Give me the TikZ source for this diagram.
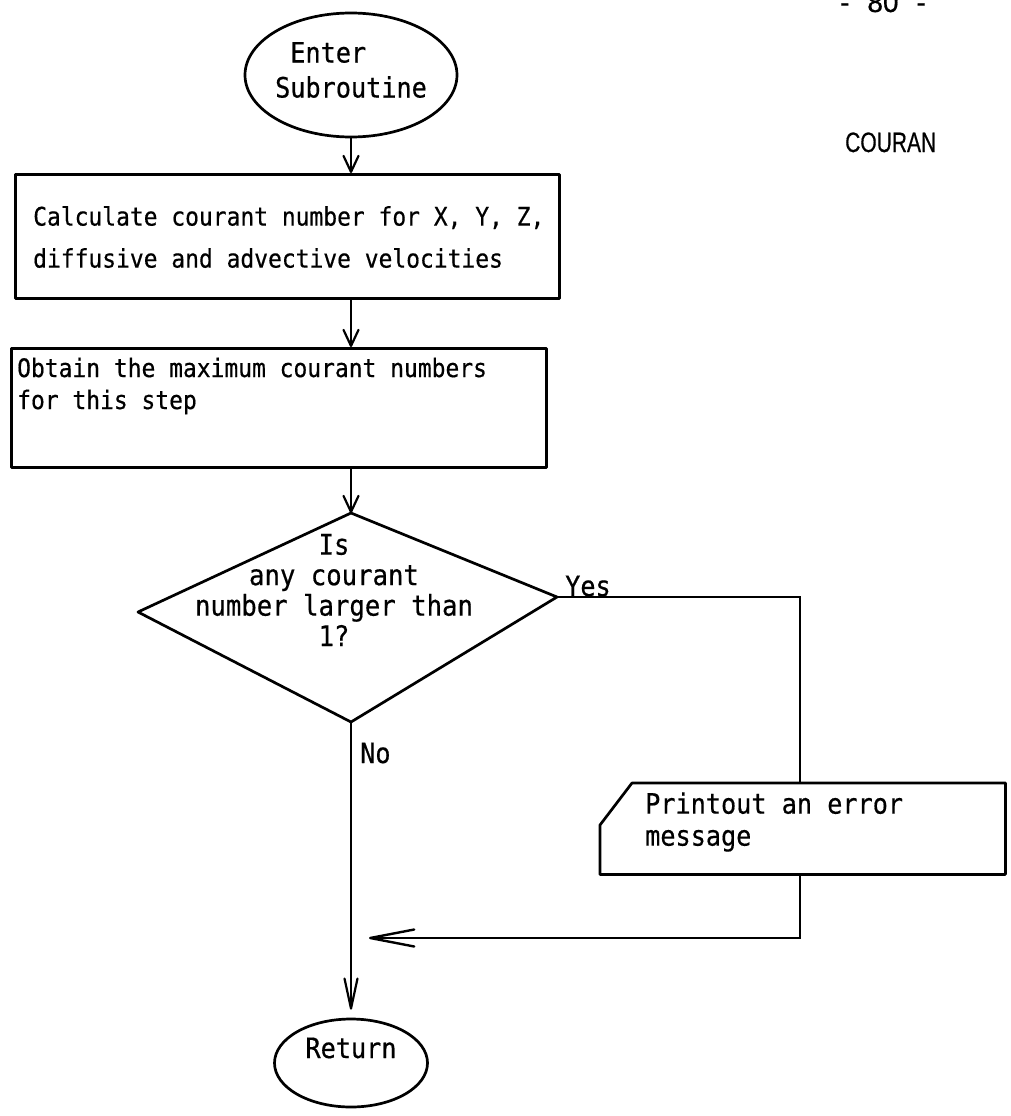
\documentclass[tikz,border=0pt]{standalone}
\usepackage{fontspec}
\usepackage{graphicx}
\setmonofont[FakeStretch=0.9,FakeBold=0.5]{DejaVu Sans Mono}
\newfontfamily\headsans[FakeBold=0.6]{Liberation Sans}
\usetikzlibrary{arrows.meta,shapes.geometric}

\tikzset{
  outline/.style={draw=black, line width=2.7pt, line join=round, inner sep=0pt},
  flow/.style={draw=black, line width=2.4pt},
  tipS/.style={-{Straight Barb[length=16pt,width=15pt,line width=2.2pt,round]}},
  tipL/.style={-{Straight Barb[length=30pt,width=13pt,line width=2.2pt,round]}},
  tipB/.style={-{Straight Barb[length=44pt,width=17pt,line width=2.4pt,round]}},
  mono/.style={font=\fontsize{28}{30}\selectfont\ttfamily, inner sep=0pt},
  boxtext/.style={inner sep=0pt, align=left},
}

\begin{document}
\begin{tikzpicture}[x=1pt,y=-1pt]
\fill[white] (0,0) rectangle (1010,1116);
\useasboundingbox (0,0) rectangle (1010,1116);

% page number and routine name
\node[anchor=base, inner sep=0pt, font=\headsans\fontsize{28}{28}\selectfont] (pagenum) at (883,12) {-\hspace{18pt}80\hspace{18pt}-};
\node[anchor=base west, inner sep=0pt, font=\headsans\fontsize{28}{28}\selectfont] (routine) at (845,152) {\scalebox{0.75}[1]{COURAN}};

% start terminal
\node[outline, ellipse, minimum width=212, minimum height=124] (enter) at (351,75) {};
\node[mono, align=left, font=\fontsize{28}{35}\selectfont\ttfamily] (entert) at (351,70) {\ Enter\\Subroutine};

% processing boxes
\node[outline, minimum width=544, minimum height=124, anchor=north west] (calc) at (14,173) {};
\node[boxtext, anchor=west, font=\fontsize{25.5}{42}\selectfont\ttfamily] (calct) at (33,237)
  {Calculate courant number for X, Y, Z,\\diffusive and advective velocities};

\node[outline, minimum width=535, minimum height=119, anchor=north west] (maxc) at (10,347) {};
\node[boxtext, anchor=west, font=\fontsize{25.5}{32}\selectfont\ttfamily] (maxct) at (17,386)
  {Obtain the maximum courant numbers\\for this step};

% decision
\coordinate (dT) at (351,513);
\coordinate (dR) at (557,597);
\coordinate (dB) at (351,722);
\coordinate (dL) at (138,612);
\draw[outline] (dT) -- (dR) -- (dB) -- (dL) -- cycle;
\node[mono, align=center, font=\fontsize{28.5}{30.5}\selectfont\ttfamily] (ask) at (334,590)
  {Is\\any courant\\number larger than\\1?};
\node[mono, anchor=base west] (yes) at (565,596) {Yes};
\node[mono, anchor=west] (no) at (360,753) {No};

% error output
\node[minimum width=405, minimum height=91, inner sep=0pt, anchor=north west] (err) at (600,783) {};
\draw[outline] ([xshift=32pt]err.north west) -- (err.north east) -- (err.south east)
  -- (err.south west) -- ([yshift=-42pt]err.north west) -- cycle;
\node[boxtext, anchor=west, font=\fontsize{28}{32}\selectfont\ttfamily] (errt) at (645,822)
  {Printout an error\\message};

% return terminal
\node[outline, ellipse, minimum width=153, minimum height=88] (ret) at (351,1063) {};
\node[mono] (rett) at (351,1048) {Return};

% connectors
\draw[flow, tipS] (enter.south) -- (enter.south |- calc.north);
\draw[flow, tipS] (enter.south |- calc.south) -- (enter.south |- maxc.north);
\draw[flow, tipS] (enter.south |- maxc.south) -- (dT);
\coordinate (yc) at (800,597);
\draw[flow] (dR) -- (yc) -- (yc |- err.north);
\coordinate (rc) at (800,938);
\draw[flow, tipB, shorten >=18pt] (yc |- err.south) -- (rc) -- (rc -| dB);
\draw[flow, tipL, shorten >=8pt] (dB) -- (ret.north);
\end{tikzpicture}
\end{document}
